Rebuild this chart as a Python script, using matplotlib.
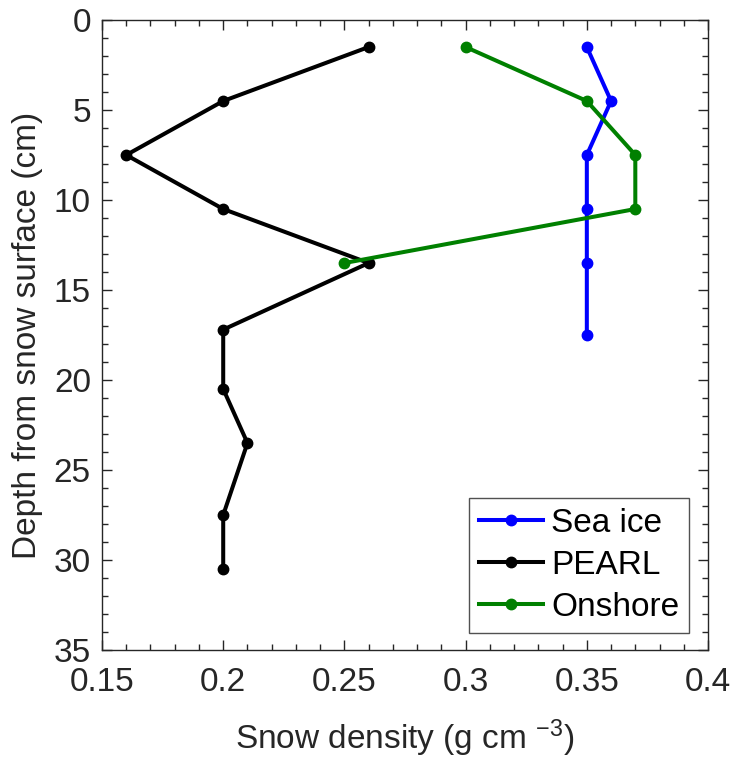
import matplotlib
matplotlib.use("Agg")
import matplotlib.pyplot as plt
from matplotlib.ticker import MultipleLocator

# data
sea_ice_density = [0.35, 0.36, 0.35, 0.35, 0.35, 0.35]
sea_ice_depth = [1.5, 4.5, 7.5, 10.5, 13.5, 17.5]

pearl_density = [0.26, 0.20, 0.16, 0.20, 0.26, 0.20, 0.20, 0.21, 0.20, 0.20]
pearl_depth = [1.5, 4.5, 7.5, 10.5, 13.5, 17.2, 20.5, 23.5, 27.5, 30.5]

onshore_density = [0.30, 0.35, 0.37, 0.37, 0.25]
onshore_depth = [1.5, 4.5, 7.5, 10.5, 13.5]

x_ticks = [0.15, 0.2, 0.25, 0.3, 0.35, 0.4]
x_tick_labels = ["0.15", "0.2", "0.25", "0.3", "0.35", "0.4"]

plt.rcParams["font.family"] = ["Liberation Sans", "DejaVu Sans"]
plt.rcParams["mathtext.default"] = "regular"
AX_COLOR = "#262626"

fig = plt.figure(figsize=(7.36, 7.67), dpi=100)
ax = fig.add_axes([0.1386, 0.1525, 0.8234, 0.8214])

style = dict(linewidth=2.9, marker="o", markersize=7.5)
ax.plot(sea_ice_density, sea_ice_depth, color="#0000ff", label="Sea ice", **style)
ax.plot(pearl_density, pearl_depth, color="black", label="PEARL", **style)
ax.plot(onshore_density, onshore_depth, color="#008000", label="Onshore", **style)

ax.set_xlim(0.15, 0.4)
ax.set_ylim(35, 0)
ax.set_xticks(x_ticks)
ax.set_xticklabels(x_tick_labels)
ax.xaxis.set_minor_locator(MultipleLocator(0.01))
ax.yaxis.set_major_locator(MultipleLocator(5))
ax.yaxis.set_minor_locator(MultipleLocator(1))

ax.tick_params(which="both", direction="in", top=True, right=True,
               colors=AX_COLOR, labelsize=24, width=1.0)
ax.tick_params(which="major", length=7)
ax.tick_params(axis="x", which="major", pad=12)
ax.tick_params(axis="y", which="major", pad=8)
ax.tick_params(which="minor", length=4)
for sp in ax.spines.values():
    sp.set_color(AX_COLOR)
    sp.set_linewidth(1.0)

ax.set_xlabel(r"Snow density (g cm $^{-3}$)", fontsize=24, color=AX_COLOR, labelpad=14)
ax.set_ylabel("Depth from snow surface (cm)", fontsize=24, color=AX_COLOR, labelpad=8)

leg = ax.legend(loc="lower right", bbox_to_anchor=(0.969, 0.027), fontsize=24,
                frameon=True, fancybox=False, edgecolor=AX_COLOR,
                handlelength=1.9, handletextpad=0.25, borderpad=0.3,
                labelspacing=0.33, borderaxespad=0.0)
leg.get_frame().set_linewidth(1.0)

fig.savefig("out.png", dpi=100)
